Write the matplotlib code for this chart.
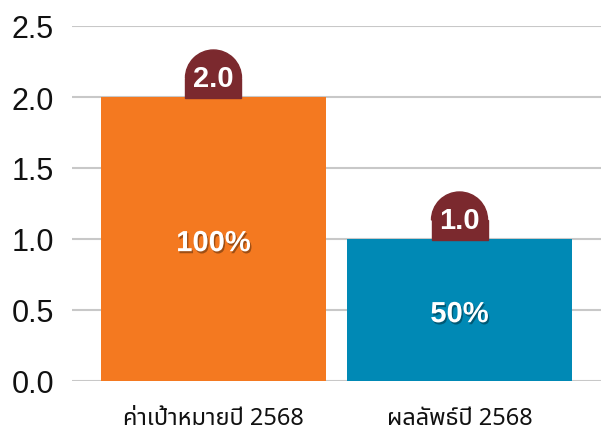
import matplotlib
matplotlib.use("Agg")
import matplotlib.pyplot as plt
import matplotlib.patheffects as pe
from matplotlib import transforms
from matplotlib.patches import Wedge, Rectangle

# data
categories = ["ค่าเป้าหมายปี 2568", "ผลลัพธ์ปี 2568"]
values = [2.0, 1.0]
percents = ["100%", "50%"]
colors = ["#F47920", "#0089B5"]
badge_color = "#7B292E"

fig = plt.figure(figsize=(6.01, 4.39), dpi=100)
ax = fig.add_axes([72 / 601, 57 / 439, 529 / 601, 355 / 439])

x = list(range(len(categories)))
ax.bar(x, values, width=0.915, color=colors, zorder=3)

ax.set_ylim(0, 2.5)
ax.set_xlim(-0.575, 1.575)
ax.set_yticks([0, 0.5, 1.0, 1.5, 2.0, 2.5])
ax.set_yticklabels(["0.0", "0.5", "1.0", "1.5", "2.0", "2.5"])
ax.yaxis.grid(True, color="#C8C8C8", linewidth=1.5, zorder=0)
ax.set_axisbelow(True)
for s in ax.spines.values():
    s.set_visible(False)
ax.tick_params(axis="y", length=0, pad=13, labelsize=22, labelcolor="#111111")
ax.tick_params(axis="x", length=0, pad=18)
ax.set_xticks(x)
ax.set_xticklabels(categories, family=["Noto Sans Thai", "DejaVu Sans"], fontsize=17, color="#111111")
for lab in ax.get_yticklabels():
    lab.set_family(["Liberation Sans", "DejaVu Sans"])

shadow = [pe.withSimplePatchShadow(offset=(1, -1.5), shadow_rgbFace="black", alpha=0.35)]

for xi, v, p in zip(x, values, percents):
    # percent in the middle of the bar
    ax.annotate(p, (xi, v / 2), xytext=(0, -3), textcoords="offset points",
                ha="center", va="center", color="white", fontsize=21,
                fontweight="bold", family=["Liberation Sans", "DejaVu Sans"],
                path_effects=shadow, zorder=5)
    # rounded badge sitting on the bar top (sizes in inches)
    trans = fig.dpi_scale_trans + transforms.ScaledTranslation(xi, v, ax.transData)
    r = 0.28
    h = 0.19
    ax.add_patch(Rectangle((-r, -0.01), 2 * r, h + 0.01, transform=trans,
                           color=badge_color, zorder=6, clip_on=False))
    ax.add_patch(Wedge((0, h), r, 0, 180, transform=trans,
                       color=badge_color, zorder=6, clip_on=False))
    ax.annotate(f"{v:.1f}", (xi, v), xytext=(0, 14), textcoords="offset points",
                ha="center", va="center", color="white", fontsize=21, fontweight="bold",
                family=["Liberation Sans", "DejaVu Sans"], zorder=7)

fig.savefig("out.png", dpi=100)
